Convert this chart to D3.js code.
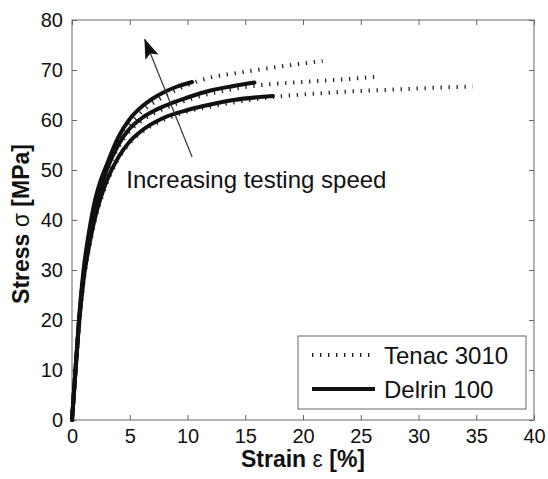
<!DOCTYPE html>
<html>
<head>
<meta charset="utf-8">
<script src="https://cdn.jsdelivr.net/npm/d3@7"></script>
<style>
  body { margin: 0; background: #fff; }
  svg text { font-family: "Liberation Sans", Arial, Helvetica, sans-serif; fill: #111; }
</style>
</head>
<body>
<div id="chart-area"></div>
<script>
// Strain [%] / stress [MPa], one pair per test speed
const delrinSlowStrain = [0, 0.3, 0.6, 1.0, 1.5, 2.0, 2.5, 3.0, 4.0, 5.0, 6.0, 8.0, 10.0, 12.0, 14.0, 17.4];
const delrinSlowStress = [0, 9.5, 19, 28, 35, 40.5, 44.5, 47.8, 52.5, 55.7, 57.8, 60.5, 62.0, 63.1, 64.0, 64.8];
const delrinMidStrain = [0, 0.3, 0.6, 1.0, 1.5, 2.0, 2.5, 3.0, 4.0, 5.0, 6.0, 8.0, 10.0, 12.0, 14.0, 15.8];
const delrinMidStress = [0, 10, 19.5, 29, 36.5, 42, 46.5, 50, 55, 58.3, 60.3, 62.8, 64.5, 65.9, 66.8, 67.5];
const delrinFastStrain = [0, 0.3, 0.6, 1.0, 1.5, 2.0, 2.5, 3.0, 4.0, 5.0, 6.0, 7.0, 8.0, 9.0, 10.4];
const delrinFastStress = [0, 10, 20, 30, 38, 44, 48, 51, 56.5, 60.2, 62.6, 64.3, 65.6, 66.6, 67.6];

const tenacSlowStrain = [0, 0.3, 0.6, 1.0, 1.5, 2.0, 3.0, 4.0, 5.0, 6.0, 8.0, 10.0, 12.0, 14.0, 17.0, 20.0, 24.0, 28.0, 32.0, 34.7];
const tenacSlowStress = [0, 9.5, 18.5, 27.5, 34.5, 40, 47.3, 52.2, 55.4, 57.5, 60.1, 61.7, 62.7, 63.5, 64.5, 65.1, 65.7, 66.1, 66.5, 66.7];
const tenacMidStrain = [0, 0.3, 0.6, 1.0, 1.5, 2.0, 3.0, 4.0, 5.0, 6.0, 8.0, 10.0, 12.0, 14.0, 16.0, 18.0, 20.0, 22.0, 24.0, 26.5];
const tenacMidStress = [0, 10, 19.5, 29, 36, 41.5, 49.5, 54.5, 57.8, 59.8, 62.3, 64.0, 65.3, 66.2, 66.9, 67.3, 67.6, 67.9, 68.2, 68.7];
const tenacFastStrain = [0, 0.3, 0.6, 1.0, 1.5, 2.0, 3.0, 4.0, 5.0, 6.0, 8.0, 10.0, 12.0, 14.0, 16.0, 18.0, 20.0, 21.7];
const tenacFastStress = [0, 10, 19.5, 29.5, 37, 43, 50.5, 55.5, 59, 61.5, 64.8, 67.0, 68.5, 69.3, 70.0, 70.7, 71.3, 71.8];

const xTicks = [0, 5, 10, 15, 20, 25, 30, 35, 40];
const yTicks = [0, 10, 20, 30, 40, 50, 60, 70, 80];
const legendLabels = ['Tenac 3010', 'Delrin 100'];

const zip = (xs, ys) => xs.map((v, i) => [v, ys[i]]);
const tenacCurves = [
    zip(tenacSlowStrain, tenacSlowStress),
    zip(tenacMidStrain, tenacMidStress),
    zip(tenacFastStrain, tenacFastStress)
];
const delrinCurves = [
    zip(delrinSlowStrain, delrinSlowStress),
    zip(delrinMidStrain, delrinMidStress),
    zip(delrinFastStrain, delrinFastStress)
];

// Margin
const margin = { left: 72, right: 14, top: 20, bottom: 59 };
const width = 548 - margin.left - margin.right;
const height = 479 - margin.top - margin.bottom;

const svg = d3.select('#chart-area')
    .append('svg')
    .attr('width', 548)
    .attr('height', 479);

const g = svg.append('g')
    .attr('transform', 'translate(' + margin.left + ', ' + margin.top + ')');

// Scales
const x = d3.scaleLinear().domain([0, 40]).range([0, width]);
const y = d3.scaleLinear().domain([0, 80]).range([height, 0]);

// Axes, ticks pointing inwards on all four sides
const xAxisGroup = g.append('g')
    .attr('transform', 'translate(0, ' + height + ')')
    .call(d3.axisBottom(x).tickValues(xTicks).tickSize(-5).tickPadding(9));
const yAxisGroup = g.append('g')
    .call(d3.axisLeft(y).tickValues(yTicks).tickSize(-5).tickPadding(9));
const topAxis = g.append('g')
    .call(d3.axisTop(x).tickValues(xTicks).tickSize(-5).tickFormat(''));
const rightAxis = g.append('g')
    .attr('transform', 'translate(' + width + ', 0)')
    .call(d3.axisRight(y).tickValues(yTicks).tickSize(-5).tickFormat(''));

[xAxisGroup, yAxisGroup, topAxis, rightAxis].forEach((a) => {
    a.select('.domain').remove();
    a.selectAll('line').attr('stroke', '#666').attr('stroke-width', 1);
    a.selectAll('text').attr('font-size', '20px').attr('fill', '#111')
        .attr('font-family', '"Liberation Sans", Arial, sans-serif');
});

// Box
g.append('rect')
    .attr('x', 0).attr('y', 0)
    .attr('width', width).attr('height', height)
    .attr('fill', 'none')
    .attr('stroke', '#666')
    .attr('stroke-width', 1);

// Curves
const line = d3.line()
    .x((d) => x(d[0]))
    .y((d) => y(d[1]))
    .curve(d3.curveMonotoneX);

g.selectAll('.tenac')
    .data(tenacCurves)
    .enter()
    .append('path')
    .attr('class', 'tenac')
    .attr('d', line)
    .attr('fill', 'none')
    .attr('stroke', '#222')
    .attr('stroke-width', 4)
    .attr('stroke-dasharray', '1.3,6.7');

g.selectAll('.delrin')
    .data(delrinCurves)
    .enter()
    .append('path')
    .attr('class', 'delrin')
    .attr('d', line)
    .attr('fill', 'none')
    .attr('stroke', '#111')
    .attr('stroke-width', 4)
    .attr('stroke-linecap', 'round');

// Arrow annotation
svg.append('defs').append('marker')
    .attr('id', 'head')
    .attr('viewBox', '0 0 20 14')
    .attr('refX', 19).attr('refY', 7)
    .attr('markerWidth', 20).attr('markerHeight', 14)
    .attr('markerUnits', 'userSpaceOnUse')
    .attr('orient', 'auto')
    .append('path')
    .attr('d', 'M0,0 L20,7 L0,14 L4,7 Z')
    .attr('fill', '#111');

g.append('line')
    .attr('x1', x(10.4)).attr('y1', y(52.6))
    .attr('x2', x(6.3)).attr('y2', y(76.1))
    .attr('stroke', '#333')
    .attr('stroke-width', 1.2)
    .attr('marker-end', 'url(#head)');

g.append('text')
    .attr('x', x(4.7))
    .attr('y', y(46.5))
    .attr('font-size', '24px')
    .text('Increasing testing speed');

// Legend
const legend = g.append('g')
    .attr('transform', 'translate(' + (298 - margin.left) + ', ' + (336 - margin.top) + ')');
legend.append('rect')
    .attr('width', 228).attr('height', 73)
    .attr('fill', '#fff')
    .attr('stroke', '#666')
    .attr('stroke-width', 1);
legendLabels.forEach((label, i) => {
    const ly = 19 + i * 34;
    legend.append('line')
        .attr('x1', 14).attr('x2', 77)
        .attr('y1', ly).attr('y2', ly)
        .attr('stroke', '#111')
        .attr('stroke-width', 4)
        .attr('stroke-dasharray', i === 0 ? '1.3,6.7' : null);
    legend.append('text')
        .attr('x', 86).attr('y', ly)
        .attr('dy', '0.36em')
        .attr('font-size', '24px')
        .text(label);
});

// X Label
const xLabel = svg.append('text')
    .attr('x', 303)
    .attr('y', 467)
    .attr('text-anchor', 'middle')
    .attr('font-size', '23px')
    .attr('font-weight', 'bold');
xLabel.append('tspan').text('Strain ');
xLabel.append('tspan').attr('font-weight', 'normal').text('ε');
xLabel.append('tspan').text(' [%]');

// Y Label
const yLabel = svg.append('text')
    .attr('transform', 'translate(29, 224) rotate(-90)')
    .attr('text-anchor', 'middle')
    .attr('font-size', '23px')
    .attr('font-weight', 'bold');
yLabel.append('tspan').text('Stress ');
yLabel.append('tspan').attr('font-weight', 'normal').text('σ');
yLabel.append('tspan').text(' [MPa]');
</script>
</body>
</html>
